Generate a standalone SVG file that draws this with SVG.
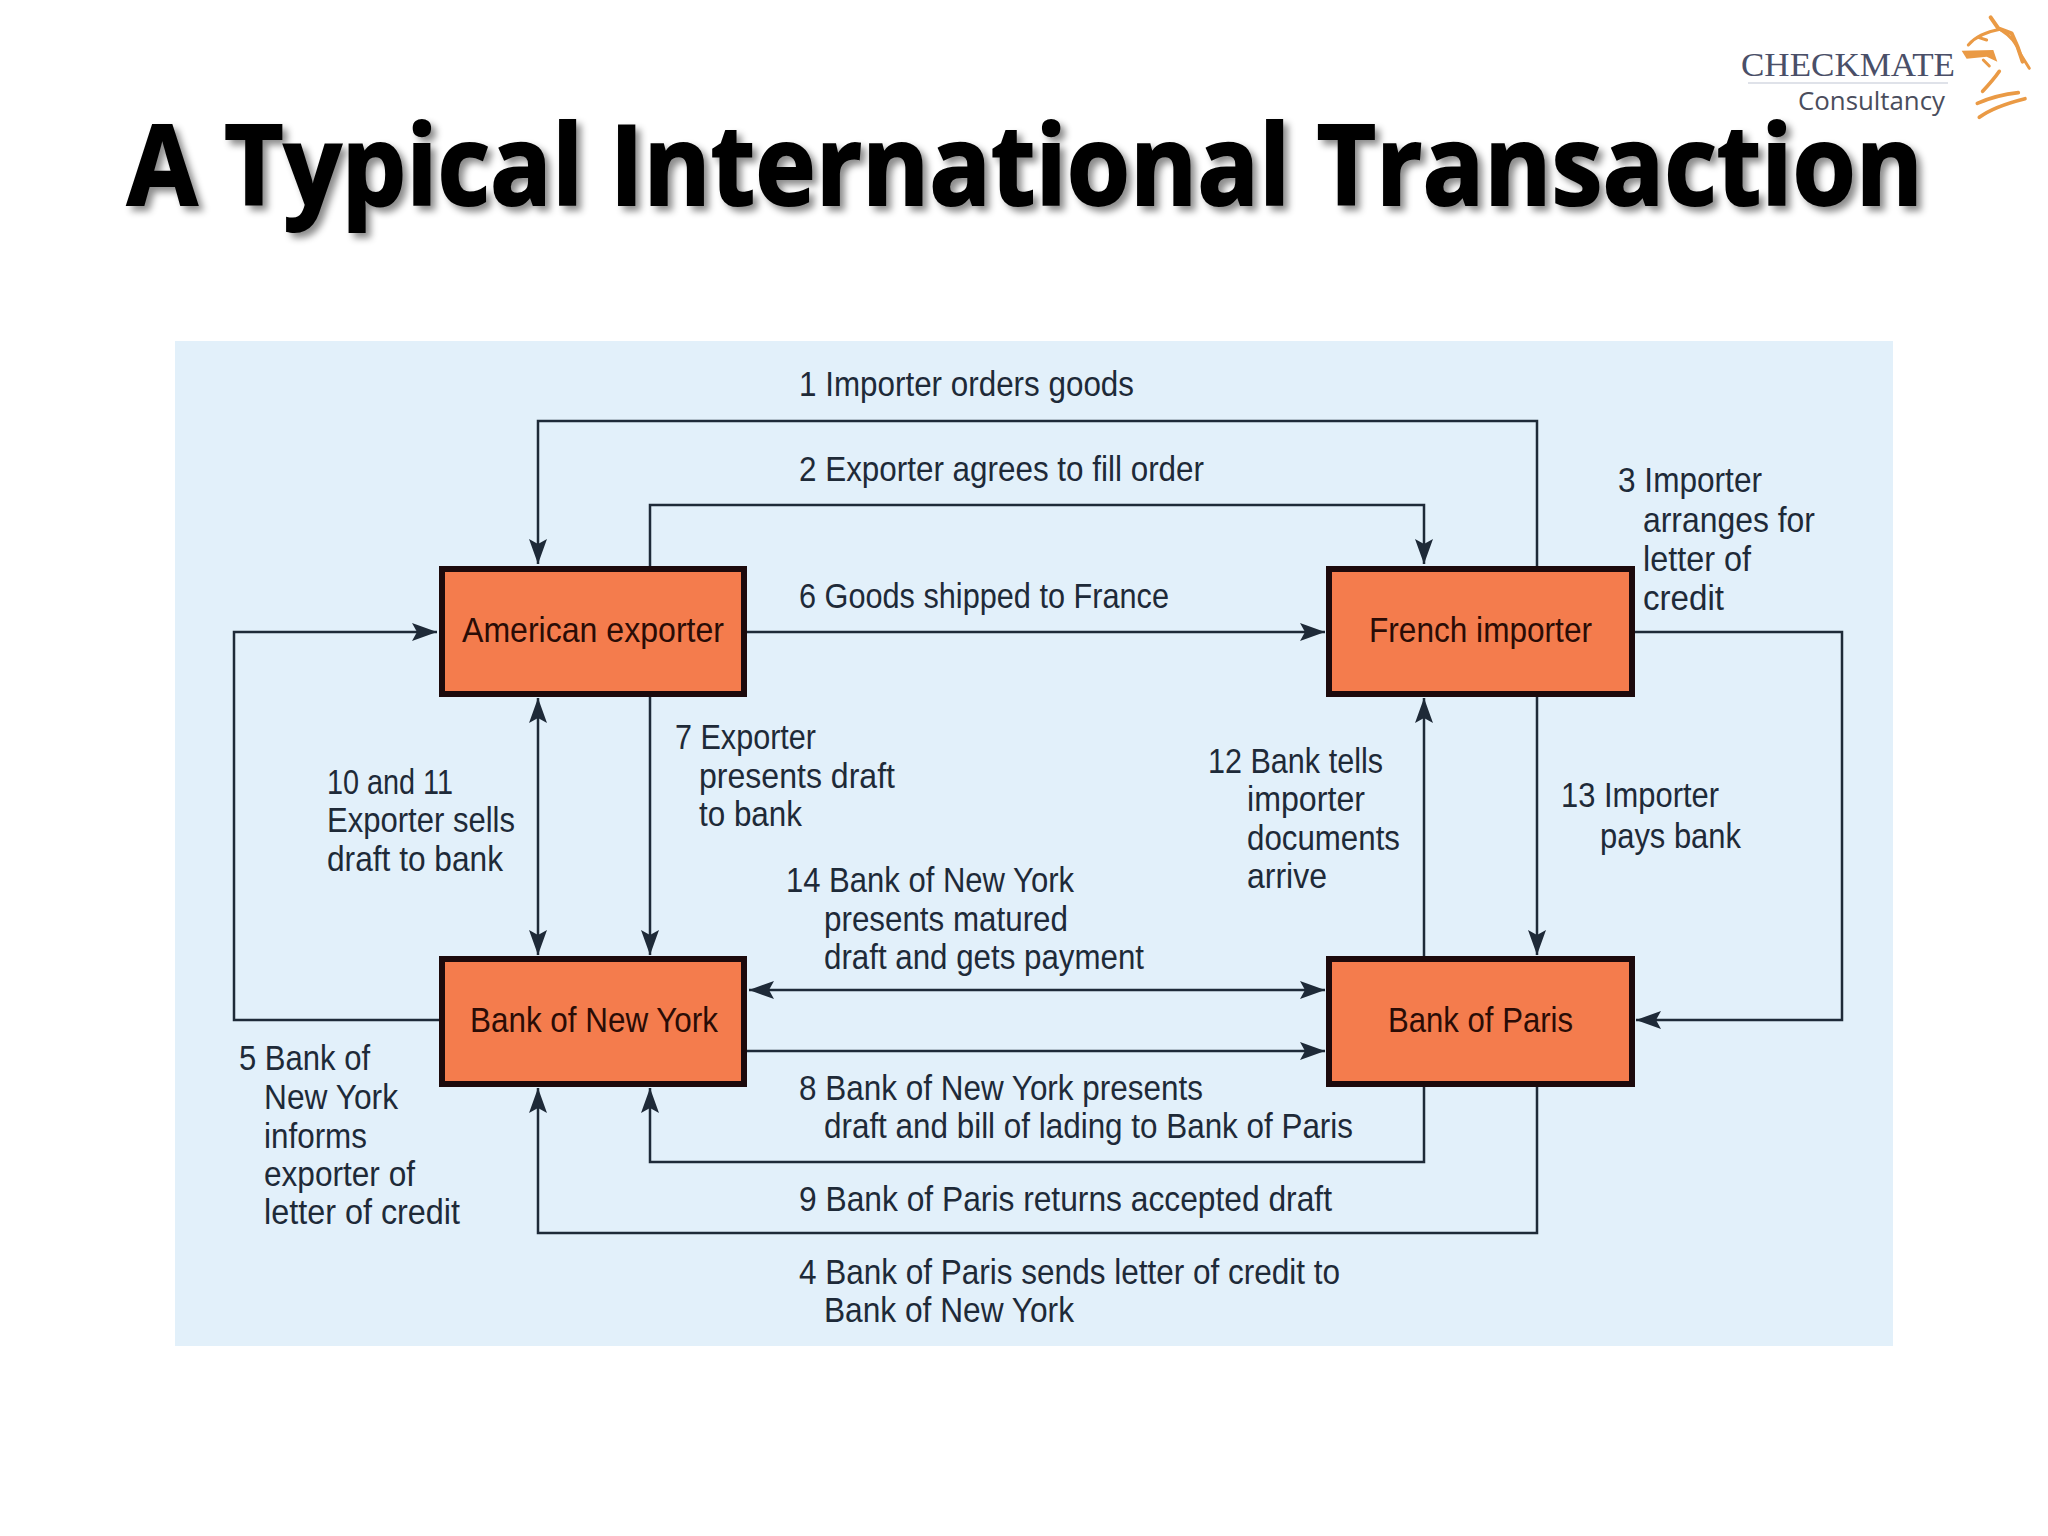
<svg xmlns="http://www.w3.org/2000/svg" width="2048" height="1536" viewBox="0 0 2048 1536">
<defs>
<style>
.lbl{font-family:"Liberation Sans",Arial,sans-serif;font-size:35px;fill:#1e2a38}
.nl{font-family:"Liberation Sans",Arial,sans-serif;font-size:35px;fill:#2a0c06}
.box{fill:#f47c4d;stroke:#1c0a0c;stroke-width:6}
.ln{fill:none;stroke:#1e2a38;stroke-width:2.5}
.ar{marker-end:url(#ah)}
.ar2{marker-end:url(#ah);marker-start:url(#ah)}
.hs{fill:none;stroke:#ea9a45;stroke-linecap:round;stroke-linejoin:round}
</style>
<marker id="ah" markerUnits="userSpaceOnUse" markerWidth="28" markerHeight="20" refX="25" refY="9" orient="auto-start-reverse" viewBox="0 0 28 18">
<path d="M25,9 L0,0 L5,9 L0,18 Z" fill="#1e2a38"/>
</marker>
<filter id="sh" filterUnits="userSpaceOnUse" x="60" y="60" width="1930" height="200">
<feDropShadow dx="5" dy="5" stdDeviation="3.5" flood-color="#000" flood-opacity=".45"/>
</filter>
</defs>
<rect width="2048" height="1536" fill="#fff"/>
<rect x="175" y="341" width="1718" height="1005" fill="#e2f0fa"/>
<text x="127" y="205" font-family="'Open Sans','Noto Sans',sans-serif" font-weight="700" font-size="112" textLength="1796" lengthAdjust="spacingAndGlyphs" fill="#000" stroke="#000" stroke-width="2" filter="url(#sh)">A Typical International Transaction</text>
<g id="logo">
<text x="1741" y="76" font-family="'Liberation Serif',serif" font-size="34" textLength="214" lengthAdjust="spacingAndGlyphs" fill="#4a4f68">CHECKMATE</text>
<line x1="1748" y1="83" x2="1948" y2="83" stroke="#d5d9e2" stroke-width="1.5"/>
<text x="1798" y="110" font-family="'Open Sans',sans-serif" font-size="25" textLength="147" lengthAdjust="spacingAndGlyphs" fill="#4a4d5c">Consultancy</text>
<g transform="translate(1700 0) scale(.3333)">
<path d="M785,152 L880,150 L892,185 L860,170 L800,176 Z" fill="#ea9a45"/>
<path class="hs" stroke-width="9" d="M805,135 Q835,100 900,88 Q950,120 960,160 L988,205"/>
<path class="hs" stroke-width="12" d="M872,52 L895,85 L935,100 Q955,140 968,185"/>
<path class="hs" stroke-width="9" d="M850,180 L868,198 M860,120 L835,112"/>
<path class="hs" stroke-width="11" d="M898,214 Q880,240 848,274"/>
<path class="hs" stroke-width="11" d="M832,310 Q890,285 955,278"/>
<path class="hs" stroke-width="11" d="M838,352 Q880,320 975,296"/>
</g>
</g>
<g id="connectors">
<path class="ln ar" d="M1537,566V421H538V564"/>
<path class="ln ar" d="M650,566V505H1424V564"/>
<path class="ln ar" d="M1634,632H1842V1020H1636"/>
<path class="ln ar" d="M747,632H1325"/>
<path class="ln ar" d="M439,1020H234V632H437"/>
<path class="ln ar2" d="M538,698V955"/>
<path class="ln ar" d="M650,696V955"/>
<path class="ln ar" d="M1424,957V698"/>
<path class="ln ar" d="M1537,696V955"/>
<path class="ln ar2" d="M749,990H1325"/>
<path class="ln ar" d="M747,1051H1325"/>
<path class="ln ar" d="M1424,1086V1162H650V1088"/>
<path class="ln ar" d="M1537,1086V1233H538V1088"/>
</g>
<g id="american-exporter"><rect class="box" x="442" y="569" width="302" height="125"/><text class="nl" x="462" y="642" textLength="262" lengthAdjust="spacingAndGlyphs">American exporter</text></g>
<g id="french-importer"><rect class="box" x="1329" y="569" width="303" height="125"/><text class="nl" x="1369" y="642" textLength="223" lengthAdjust="spacingAndGlyphs">French importer</text></g>
<g id="bank-of-new-york"><rect class="box" x="442" y="959" width="302" height="125"/><text class="nl" x="470" y="1032" textLength="248" lengthAdjust="spacingAndGlyphs">Bank of New York</text></g>
<g id="bank-of-paris"><rect class="box" x="1329" y="959" width="303" height="125"/><text class="nl" x="1388" y="1032" textLength="185" lengthAdjust="spacingAndGlyphs">Bank of Paris</text></g>
<g id="labels">
<text class="lbl" x="799" y="396" textLength="335" lengthAdjust="spacingAndGlyphs">1 Importer orders goods</text>
<text class="lbl" x="799" y="481" textLength="405" lengthAdjust="spacingAndGlyphs">2 Exporter agrees to fill order</text>
<text class="lbl" x="1618" y="492" textLength="144" lengthAdjust="spacingAndGlyphs">3 Importer</text>
<text class="lbl" x="1643" y="532" textLength="172" lengthAdjust="spacingAndGlyphs">arranges for</text>
<text class="lbl" x="1643" y="571" textLength="108" lengthAdjust="spacingAndGlyphs">letter of</text>
<text class="lbl" x="1643" y="610" textLength="81" lengthAdjust="spacingAndGlyphs">credit</text>
<text class="lbl" x="799" y="608" textLength="370" lengthAdjust="spacingAndGlyphs">6 Goods shipped to France</text>
<text class="lbl" x="675" y="749" textLength="141" lengthAdjust="spacingAndGlyphs">7 Exporter</text>
<text class="lbl" x="699" y="788" textLength="196" lengthAdjust="spacingAndGlyphs">presents draft</text>
<text class="lbl" x="699" y="826" textLength="103" lengthAdjust="spacingAndGlyphs">to bank</text>
<text class="lbl" x="327" y="794" textLength="126" lengthAdjust="spacingAndGlyphs">10 and 11</text>
<text class="lbl" x="327" y="832" textLength="188" lengthAdjust="spacingAndGlyphs">Exporter sells</text>
<text class="lbl" x="327" y="871" textLength="176" lengthAdjust="spacingAndGlyphs">draft to bank</text>
<text class="lbl" x="1208" y="773" textLength="175" lengthAdjust="spacingAndGlyphs">12 Bank tells</text>
<text class="lbl" x="1247" y="811" textLength="118" lengthAdjust="spacingAndGlyphs">importer</text>
<text class="lbl" x="1247" y="850" textLength="153" lengthAdjust="spacingAndGlyphs">documents</text>
<text class="lbl" x="1247" y="888" textLength="80" lengthAdjust="spacingAndGlyphs">arrive</text>
<text class="lbl" x="1561" y="807" textLength="158" lengthAdjust="spacingAndGlyphs">13 Importer</text>
<text class="lbl" x="1600" y="848" textLength="141" lengthAdjust="spacingAndGlyphs">pays bank</text>
<text class="lbl" x="786" y="892" textLength="288" lengthAdjust="spacingAndGlyphs">14 Bank of New York</text>
<text class="lbl" x="824" y="931" textLength="244" lengthAdjust="spacingAndGlyphs">presents matured</text>
<text class="lbl" x="824" y="969" textLength="320" lengthAdjust="spacingAndGlyphs">draft and gets payment</text>
<text class="lbl" x="239" y="1070" textLength="131" lengthAdjust="spacingAndGlyphs">5 Bank of</text>
<text class="lbl" x="264" y="1109" textLength="134" lengthAdjust="spacingAndGlyphs">New York</text>
<text class="lbl" x="264" y="1148" textLength="103" lengthAdjust="spacingAndGlyphs">informs</text>
<text class="lbl" x="264" y="1186" textLength="151" lengthAdjust="spacingAndGlyphs">exporter of</text>
<text class="lbl" x="264" y="1224" textLength="196" lengthAdjust="spacingAndGlyphs">letter of credit</text>
<text class="lbl" x="799" y="1100" textLength="404" lengthAdjust="spacingAndGlyphs">8 Bank of New York presents</text>
<text class="lbl" x="824" y="1138" textLength="529" lengthAdjust="spacingAndGlyphs">draft and bill of lading to Bank of Paris</text>
<text class="lbl" x="799" y="1211" textLength="533" lengthAdjust="spacingAndGlyphs">9 Bank of Paris returns accepted draft</text>
<text class="lbl" x="799" y="1284" textLength="541" lengthAdjust="spacingAndGlyphs">4 Bank of Paris sends letter of credit to</text>
<text class="lbl" x="824" y="1322" textLength="250" lengthAdjust="spacingAndGlyphs">Bank of New York</text>
</g>
</svg>
